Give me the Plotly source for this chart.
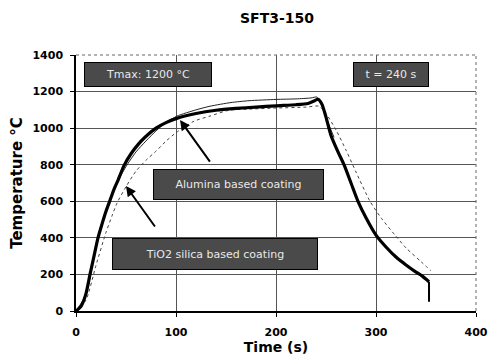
import plotly.graph_objects as go

# Main (thick) curve
t_main = [0, 5, 10, 14, 18, 22, 26, 30, 34, 38, 42, 48, 55, 62, 69, 80, 90, 100, 120, 140, 160,
          180, 200, 220, 232, 238, 242, 246, 250, 255, 262, 268, 275, 282, 290, 300, 310, 320,
          330, 340, 346, 353, 353]
T_main = [0, 25, 95, 200, 300, 400, 475, 545, 605, 665, 715, 795, 860, 910, 950, 1000, 1030, 1052,
          1080, 1098, 1108, 1115, 1122, 1128, 1135, 1148, 1158, 1130, 1060, 960, 870, 800, 700,
          600, 510, 415, 350, 295, 252, 213, 192, 160, 50]

# Thin solid curve
t_thin = [0, 10, 20, 30, 40, 50, 60, 70, 80, 90, 101, 120, 134, 155, 173, 200, 220, 235, 241, 246,
          252, 258]
T_thin = [0, 90, 350, 550, 690, 790, 870, 930, 985, 1030, 1066, 1100, 1120, 1140, 1150, 1157, 1160,
          1165, 1170, 1120, 1030, 950]

# Dotted curve
t_dot = [0, 10, 20, 30, 36, 41, 50, 60, 70, 80, 90, 100, 118, 134, 153, 173, 200, 230, 243,
         250, 260, 270, 280, 294, 305, 319, 330, 345, 355]
T_dot = [0, 60, 250, 430, 520, 590, 680, 765, 825, 874, 929, 975, 1038, 1066, 1098, 1104, 1110,
         1115, 1120, 1080, 990, 880, 760, 600, 510, 415, 345, 270, 220]

x_ticks = [0, 100, 200, 300, 400]
y_ticks = [0, 200, 400, 600, 800, 1000, 1200, 1400]

box_texts = ["Tmax: 1200 °C", "t = 240 s", "Alumina based coating", "TiO2 silica based coating"]

FONT = "DejaVu Sans"

fig = go.Figure()
fig.add_trace(go.Scatter(x=t_dot, y=T_dot, mode="lines",
                         line=dict(color="#444", width=1, dash="dot", shape="spline", smoothing=0.6),
                         showlegend=False))
fig.add_trace(go.Scatter(x=t_thin, y=T_thin, mode="lines",
                         line=dict(color="#222", width=1, shape="spline", smoothing=0.6),
                         showlegend=False))
# smooth body of the main curve
fig.add_trace(go.Scatter(x=t_main[:-1], y=T_main[:-1], mode="lines",
                         line=dict(color="black", width=3.2, shape="spline", smoothing=0.6),
                         showlegend=False))
# final vertical end mark of the main record
fig.add_trace(go.Scatter(x=t_main[-2:], y=T_main[-2:], mode="lines",
                         line=dict(color="black", width=2), showlegend=False))

box_style = dict(showarrow=False, bgcolor="#4a4a4a", bordercolor="black", borderwidth=1,
                 font=dict(family=FONT, size=11, color="#e8e8e8"), xref="x", yref="y")
fig.add_annotation(x=72, y=1294, text=box_texts[0], width=124, height=21, **box_style)
fig.add_annotation(x=315, y=1294, text=box_texts[1], width=72, height=21, **box_style)
fig.add_annotation(x=162, y=691, text=box_texts[2], width=167, height=27, **box_style)
fig.add_annotation(x=139, y=311, text=box_texts[3], width=202, height=28, **box_style)

arrow_style = dict(showarrow=True, arrowhead=2, arrowsize=1, arrowwidth=2, arrowcolor="black",
                   axref="x", ayref="y", xref="x", yref="y", text="")
fig.add_annotation(x=104, y=1044, ax=135, ay=809, **arrow_style)
fig.add_annotation(x=50, y=683, ax=80, ay=454, **arrow_style)

# dotted frame top/right
fig.add_shape(type="line", xref="paper", yref="paper", x0=0, x1=1, y0=1, y1=1,
              line=dict(color="#666", width=1, dash="dot"))
fig.add_shape(type="line", xref="paper", yref="paper", x0=1, x1=1, y0=0, y1=1,
              line=dict(color="#666", width=1, dash="dot"))

fig.update_layout(
    width=500, height=363,
    margin=dict(l=76, r=13, t=55, b=50),
    paper_bgcolor="white", plot_bgcolor="white",
    title=dict(text="<b>SFT3-150</b>", x=277 / 500, xanchor="center", y=0.95,
               yanchor="middle", font=dict(family=FONT, size=14, color="black")),
    xaxis=dict(range=[0, 400], tickvals=x_ticks, ticktext=[f"<b>{v}</b>" for v in x_ticks],
               showgrid=True, gridcolor="#555", gridwidth=1,
               showline=True, linecolor="black", linewidth=1.5,
               ticks="outside", ticklen=4, tickcolor="black", ticklabelstandoff=6,
               tickfont=dict(family=FONT, size=11, color="black"),
               title=dict(text="<b>Time (s)</b>", standoff=2,
                          font=dict(family=FONT, size=14, color="black")),
               zeroline=False),
    yaxis=dict(range=[0, 1400], tickvals=y_ticks, ticktext=[f"<b>{v}</b>" for v in y_ticks],
               showgrid=True, gridcolor="#555", gridwidth=1,
               showline=True, linecolor="black", linewidth=1.5,
               ticks="outside", ticklen=4, tickcolor="black", ticklabelstandoff=5,
               tickfont=dict(family=FONT, size=11, color="black"),
               title=dict(text="<b>Temperature °C</b>", standoff=6,
                          font=dict(family=FONT, size=15, color="black")),
               zeroline=False),
)

fig.write_html("out.html")
